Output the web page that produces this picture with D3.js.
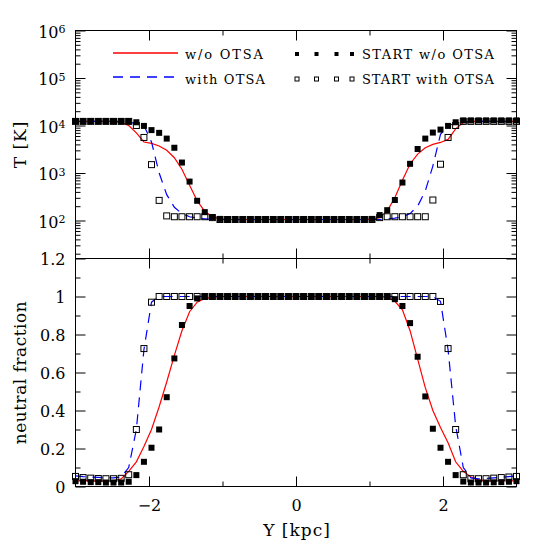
<!DOCTYPE html>
<html>
<head>
<meta charset="utf-8">
<script src="https://cdn.jsdelivr.net/npm/d3@7"></script>
<style>
  body { margin: 0; background: #fff; }
  svg { display: block; }
</style>
</head>
<body>
<div id="chart"></div>
<script>
const WIDTH = 545, HEIGHT = 545;
const LEFT = 75.5, RIGHT = 516.5, TOP = 30.5, MID = 258.5, BOTTOM = 486.5;
const FONT = "DejaVu Serif";
const RED = "#ff0000", BLUE = "#0000ff", DASH = "10,7";

// positions along the cut (kpc)
const X_KPC = [-3.000, -2.897, -2.793, -2.690, -2.586, -2.483, -2.379, -2.276, -2.172, -2.069,
    -1.966, -1.862, -1.759, -1.655, -1.552, -1.448, -1.345, -1.241, -1.138, -1.034,
    -0.931, -0.828, -0.724, -0.621, -0.517, -0.414, -0.310, -0.207, -0.103, 0.000,
    0.103, 0.207, 0.310, 0.414, 0.517, 0.621, 0.724, 0.828, 0.931, 1.034,
    1.138, 1.241, 1.345, 1.448, 1.552, 1.655, 1.759, 1.862, 1.966, 2.069,
    2.172, 2.276, 2.379, 2.483, 2.586, 2.690, 2.793, 2.897, 3.000];

// temperature [K]
const T_NO_OTSA = [12200, 12200, 12200, 12200, 12200, 12200, 11500, 10000, 7000, 4500,
    4200, 3700, 3000, 2100, 1200, 550, 260, 155, 120, 108,
    105, 105, 105, 105, 105, 105, 105, 105, 105, 105,
    105, 105, 105, 105, 105, 105, 105, 105, 105, 107,
    115, 160, 300, 700, 1550, 2500, 3400, 4000, 4400, 5100,
    8500, 11500, 12200, 12200, 12200, 12200, 12200, 12200, 12200];
const T_OTSA = [12200, 12200, 12200, 12200, 12200, 12200, 12200, 11800, 11000, 10000,
    4500, 1000, 350, 190, 140, 120, 112, 108, 105, 105,
    105, 105, 105, 105, 105, 105, 105, 105, 105, 105,
    105, 105, 105, 105, 105, 105, 105, 105, 105, 105,
    105, 108, 112, 120, 140, 200, 420, 1400, 6500, 10000,
    11000, 11800, 12200, 12200, 12200, 12200, 12200, 12200, 12200];
const T_START_NO_OTSA = [12400, 12400, 12400, 12400, 12400, 12400, 12400, 12400, 11700, 9800,
    8000, 7000, 5300, 3400, 1660, 660, 260, 150, 118, 108,
    105, 105, 105, 105, 105, 105, 105, 105, 105, 105,
    105, 105, 105, 105, 105, 105, 105, 105, 105, 108,
    130, 165, 270, 630, 1560, 3200, 5300, 7100, 8200, 9800,
    11700, 12800, 12800, 12800, 12800, 12800, 12800, 12800, 12800];
const T_START_OTSA = [12200, 12200, 12200, 12200, 12200, 12200, 12200, 12200, 10000, 5600,
    1500, 265, 125, 120, 120, 120, 120, 120, 115, 105,
    105, 105, 105, 105, 105, 105, 105, 105, 105, 105,
    105, 105, 105, 105, 105, 105, 105, 105, 105, 105,
    115, 120, 120, 120, 120, 120, 120, 270, 1530, 5600,
    10000, 12200, 12200, 12200, 12200, 12200, 12200, 12200, 12200];

// neutral fraction
const F_NO_OTSA = [0.03, 0.03, 0.03, 0.03, 0.03, 0.03, 0.04, 0.08, 0.13, 0.21,
    0.30, 0.42, 0.55, 0.69, 0.82, 0.92, 0.97, 0.99, 0.995, 1,
    1, 1, 1, 1, 1, 1, 1, 1, 1, 1,
    1, 1, 1, 1, 1, 1, 1, 1, 1, 1,
    1, 0.995, 0.975, 0.93, 0.82, 0.67, 0.52, 0.40, 0.31, 0.23,
    0.13, 0.08, 0.05, 0.035, 0.03, 0.03, 0.03, 0.03, 0.03];
const F_OTSA = [0.056, 0.052, 0.05, 0.048, 0.046, 0.045, 0.05, 0.10, 0.30, 0.72,
    0.97, 1, 1, 1, 1, 1, 1, 1, 1, 1,
    1, 1, 1, 1, 1, 1, 1, 1, 1, 1,
    1, 1, 1, 1, 1, 1, 1, 1, 1, 1,
    1, 1, 1, 1, 1, 1, 1, 1, 0.975, 0.72,
    0.32, 0.10, 0.045, 0.04, 0.042, 0.045, 0.048, 0.052, 0.056];
const F_START_NO_OTSA = [0.028, 0.025, 0.023, 0.023, 0.021, 0.021, 0.021, 0.025, 0.06, 0.13,
    0.204, 0.30, 0.47, 0.674, 0.85, 0.95, 0.99, 1, 1, 1,
    1, 1, 1, 1, 1, 1, 1, 1, 1, 1,
    1, 1, 1, 1, 1, 1, 1, 1, 1, 1,
    1, 1, 0.986, 0.95, 0.86, 0.683, 0.474, 0.304, 0.204, 0.13,
    0.06, 0.026, 0.021, 0.021, 0.021, 0.022, 0.023, 0.025, 0.028];
const F_START_OTSA = [0.053, 0.047, 0.044, 0.042, 0.041, 0.041, 0.043, 0.062, 0.30, 0.726,
    0.97, 1, 1, 1, 1, 1, 1, 1, 1, 1,
    1, 1, 1, 1, 1, 1, 1, 1, 1, 1,
    1, 1, 1, 1, 1, 1, 1, 1, 1, 1,
    1, 1, 1, 1, 1, 1, 1, 1, 0.974, 0.726,
    0.30, 0.062, 0.041, 0.041, 0.041, 0.044, 0.047, 0.05, 0.053];

// ticks
const X_MAJOR = [-2, 0, 2], X_MINOR = [-1, 1];
const T_MAJOR = [1e2, 1e3, 1e4, 1e5, 1e6];
const T_MINOR = [1e1, 1e2, 1e3, 1e4, 1e5].flatMap(d => [2, 3, 4, 5, 6, 7, 8, 9].map(m => m * d));
const F_MAJOR = [0, 0.2, 0.4, 0.6, 0.8, 1, 1.2];
const F_MINOR = [0.1, 0.3, 0.5, 0.7, 0.9, 1.1];

const svg = d3.select("#chart").append("svg")
    .attr("width", WIDTH)
    .attr("height", HEIGHT)
    .style("font-family", FONT);

const x = d3.scaleLinear().domain([-3, 3]).range([LEFT, RIGHT]);
const yT = d3.scaleLog().domain([Math.pow(10, 1.2), 1e6]).range([MID, TOP]);
const yF = d3.scaleLinear().domain([0, 1.2]).range([BOTTOM, MID]);

function Ticks(axis, values, size, yPos, xPos, fmt) {
    const g = svg.append("g")
        .attr("transform", `translate(${xPos},${yPos})`)
        .call(axis.tickValues(values).tickSize(size).tickSizeOuter(0)
            .tickFormat(fmt || (() => "")));
    g.select(".domain").remove();
    g.selectAll(".tick line").attr("stroke", "#000").attr("stroke-width", 1);
    g.attr("font-family", FONT).attr("font-size", 16);
    return g;
}

// x ticks on every horizontal edge
Ticks(d3.axisTop(x), X_MAJOR, -10, TOP, 0);
Ticks(d3.axisTop(x), X_MINOR, -5, TOP, 0);
Ticks(d3.axisBottom(x), X_MAJOR, -10, MID, 0);
Ticks(d3.axisBottom(x), X_MINOR, -5, MID, 0);
Ticks(d3.axisTop(x), X_MAJOR, -10, MID, 0);
Ticks(d3.axisTop(x), X_MINOR, -5, MID, 0);
Ticks(d3.axisBottom(x), X_MINOR, -5, BOTTOM, 0);
Ticks(d3.axisBottom(x), X_MAJOR, -10, BOTTOM, 0, d3.format("d"))
    .selectAll(".tick text").attr("y", 13).attr("fill", "#000");

// top panel: log temperature
Ticks(d3.axisRight(yT), T_MAJOR, -10, 0, RIGHT);
Ticks(d3.axisRight(yT), T_MINOR, -5, 0, RIGHT);
Ticks(d3.axisLeft(yT), T_MINOR, -5, 0, LEFT);
Ticks(d3.axisLeft(yT), T_MAJOR, -10, 0, LEFT, d => "")
    .selectAll(".tick text")
    .attr("x", -10).attr("dy", "0.42em").attr("fill", "#000")
    .each(function (d) {
        const t = d3.select(this);
        t.append("tspan").text("10");
        t.append("tspan").attr("dy", "-0.42em").attr("font-size", 11).text(Math.round(Math.log10(d)));
    });

// bottom panel: neutral fraction
Ticks(d3.axisRight(yF), F_MAJOR, -10, 0, RIGHT);
Ticks(d3.axisRight(yF), F_MINOR, -5, 0, RIGHT);
Ticks(d3.axisLeft(yF), F_MINOR, -5, 0, LEFT);
Ticks(d3.axisLeft(yF), F_MAJOR, -10, 0, LEFT, d3.format("~g"))
    .selectAll(".tick text").attr("x", -10).attr("dy", "0.4em").attr("fill", "#000");

// frames
[[TOP, MID], [MID, BOTTOM]].forEach(([a, b]) => {
    svg.append("rect")
        .attr("x", LEFT).attr("y", a)
        .attr("width", RIGHT - LEFT).attr("height", b - a)
        .attr("fill", "none").attr("stroke", "#000").attr("stroke-width", 1);
});

const plotT = svg.append("g");
const plotF = svg.append("g");

function Curve(g, yScale, values, color, dash) {
    g.append("path")
        .datum(values)
        .attr("fill", "none")
        .style("stroke", color)
        .attr("stroke-width", 1.2)
        .attr("stroke-dasharray", dash)
        .attr("d", d3.line().x((d, i) => x(X_KPC[i])).y(d => yScale(d)));
}
function Squares(g, yScale, values, filled) {
    const S = 6;
    g.selectAll(null)
        .data(values)
        .enter().append("rect")
        .attr("x", (d, i) => x(X_KPC[i]) - S / 2)
        .attr("y", d => yScale(d) - S / 2)
        .attr("width", S).attr("height", S)
        .attr("fill", filled ? "#000" : "none")
        .attr("stroke", filled ? "none" : "#000")
        .attr("stroke-width", 1);
}

Curve(plotT, yT, T_NO_OTSA, RED, null);
Curve(plotT, yT, T_OTSA, BLUE, DASH);
Squares(plotT, yT, T_START_OTSA, false);
Squares(plotT, yT, T_START_NO_OTSA, true);

Curve(plotF, yF, F_NO_OTSA, RED, null);
Curve(plotF, yF, F_OTSA, BLUE, DASH);
Squares(plotF, yF, F_START_OTSA, false);
Squares(plotF, yF, F_START_NO_OTSA, true);

// axis titles
svg.append("text")
    .attr("transform", `translate(26,${(TOP + MID) / 2}) rotate(-90)`)
    .attr("text-anchor", "middle").attr("font-size", 17).attr("letter-spacing", 1)
    .text("T [K]");
svg.append("text")
    .attr("transform", `translate(26,${(MID + BOTTOM) / 2}) rotate(-90)`)
    .attr("text-anchor", "middle").attr("font-size", 17).attr("letter-spacing", 0.5)
    .text("neutral fraction");
svg.append("text")
    .attr("x", (LEFT + RIGHT) / 2 + 1).attr("y", 536)
    .attr("text-anchor", "middle").attr("font-size", 17).attr("letter-spacing", 1)
    .text("Y [kpc]");

// legend
const legend = svg.append("g").attr("font-size", 13);
const LEGEND_LINES = [
    { label: "w/o OTSA", color: RED, dash: null, ly: 53, ty: 58.5, len: 78 },
    { label: "with OTSA", color: BLUE, dash: DASH, ly: 77, ty: 83.5, len: 80 }
];
LEGEND_LINES.forEach(e => {
    legend.append("path")
        .attr("d", `M113,${e.ly}H178`)
        .attr("fill", "none")
        .style("stroke", e.color)
        .style("stroke-width", 1.4)
        .style("stroke-dasharray", e.dash || "none");
    legend.append("text").attr("x", 185).attr("y", e.ty)
        .attr("textLength", e.len).attr("lengthAdjust", "spacing").text(e.label);
});
[["START w/o OTSA", true, 54, 58.5], ["START with OTSA", false, 79, 83.5]]
    .forEach(([label, filled, my, ty]) => {
        [297, 316.5, 336.5, 352].forEach(mx => {
            legend.append("rect")
                .attr("x", mx - 2).attr("y", my - 2).attr("width", 4).attr("height", 4)
                .attr("fill", filled ? "#000" : "none")
                .attr("stroke", filled ? "none" : "#000").attr("stroke-width", 1);
        });
        legend.append("text").attr("x", 362).attr("y", ty)
            .attr("textLength", 132).attr("lengthAdjust", "spacing").text(label);
    });
</script>
</body>
</html>
